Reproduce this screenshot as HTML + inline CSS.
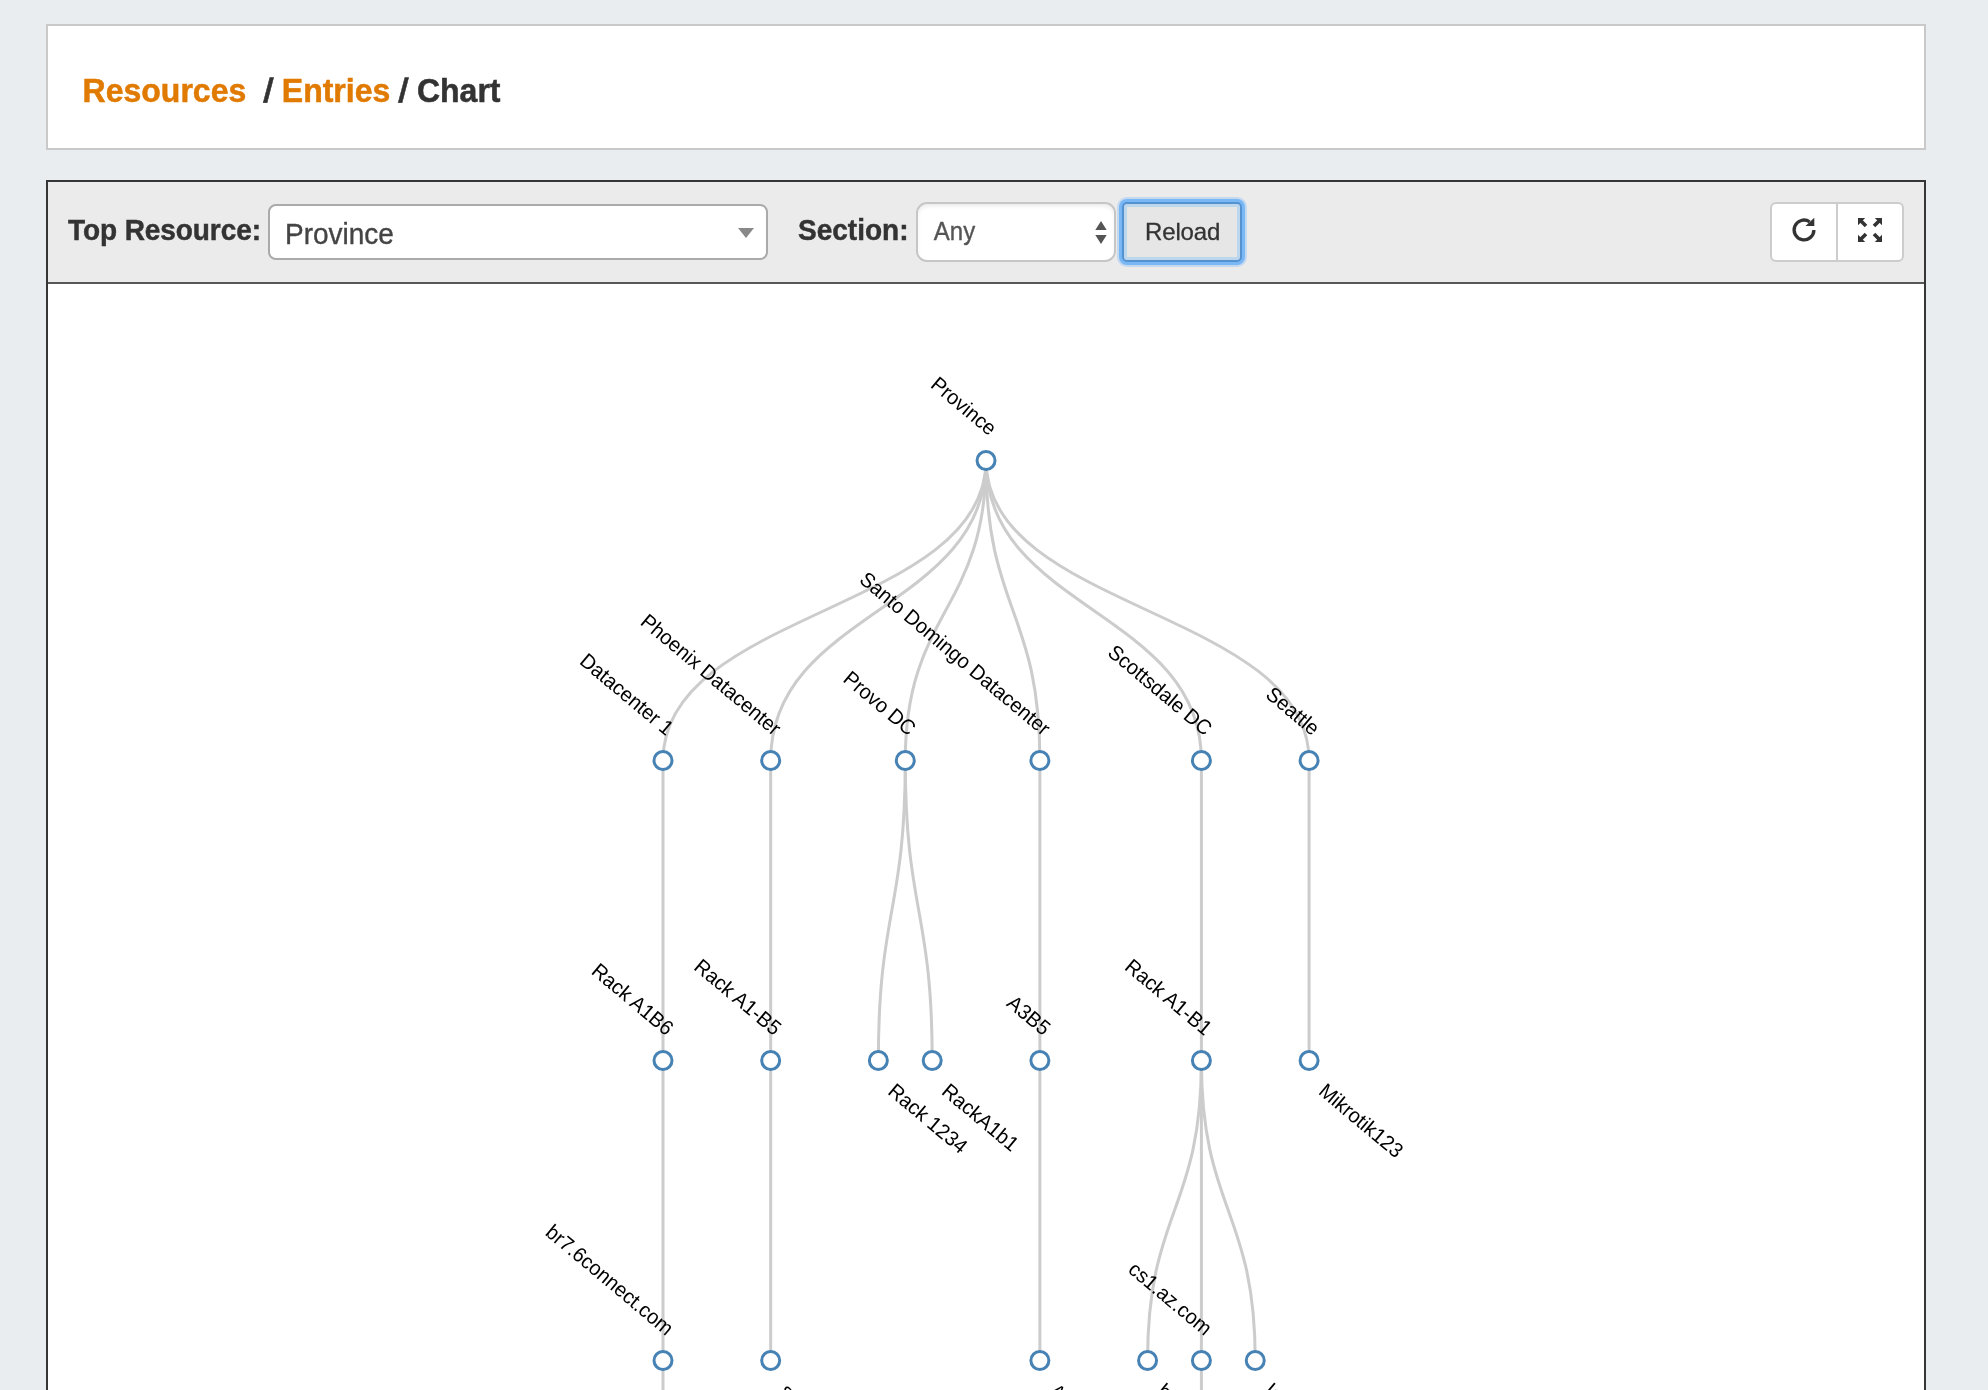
<!DOCTYPE html>
<html lang="en">
<head>
<meta charset="utf-8">
<title>Resources / Entries / Chart</title>
<style>
html,body{margin:0;padding:0;}
body{width:1988px;height:1390px;overflow:hidden;background:#e9edf0;font-family:"Liberation Sans",Arial,Helvetica,sans-serif;color:#333;position:relative;}
*{box-sizing:border-box;}
#wrap{position:absolute;left:0;top:0;width:1988px;height:1390px;overflow:hidden;will-change:transform;}
.header{position:absolute;left:46px;top:24px;width:1880px;height:126px;background:#fff;border:2px solid #c9c9c9;}
.header h1{position:absolute;left:34.6px;top:45px;margin:0;font-size:32px;line-height:36px;font-weight:bold;color:#333;white-space:pre;transform-origin:0 0;transform:scaleY(1.06);-webkit-text-stroke:0.5px;}
.header h1 a{color:#e07a00;text-decoration:none;}
.header h1 i{font-style:normal;display:inline-block;transform:skewX(-5deg);}
.chartbox{position:absolute;left:46px;top:180px;width:1880px;height:1240px;border:2px solid #363636;background:#fff;}
.toolbar{position:absolute;left:0;top:0;width:1876px;height:102px;background:#ebebeb;border-bottom:2px solid #585858;}
.lbl{position:absolute;font-size:28px;line-height:32px;font-weight:bold;color:#333;white-space:nowrap;transform-origin:0 0;transform:scaleY(1.055);-webkit-text-stroke:0.45px;}
.sel2{position:absolute;left:220px;top:22px;width:500px;height:56px;border:2px solid #aaa;border-radius:8px;background:#fff;}
.sel2 span{position:absolute;left:15px;top:12px;font-size:28px;line-height:32px;color:#444;transform-origin:0 0;transform:scaleY(1.05);-webkit-text-stroke:0.35px;}
.sel2 i{position:absolute;left:468px;top:22px;width:0;height:0;border-style:solid;border-width:10px 8px 0 8px;border-color:#888 transparent transparent transparent;}
.sel{position:absolute;left:868px;top:20px;width:200px;height:60px;border:2px solid #c6c6c6;border-radius:11px;background:#fff;box-shadow:inset 0 3px 4px -1px rgba(0,0,0,0.09);}
.sel span{position:absolute;left:15.8px;top:12.8px;font-size:24px;line-height:28px;color:#555;transform-origin:0 0;transform:scaleY(1.05);-webkit-text-stroke:0.35px;}
.sel svg{position:absolute;left:175.7px;top:17px;}
.btn{position:absolute;left:1074px;top:20px;width:120px;height:60px;background:#e6e6e6;border:2px solid #5593d0;border-radius:5px;box-shadow:0 0 0 3px #7ab8f5,0 0 0 5px #c4d9f0,inset 0 0 0 3px #bcd6ee;font-size:24px;line-height:28px;color:#333;}
.btn span{position:absolute;left:21px;top:13.6px;letter-spacing:-0.15px;transform-origin:0 0;transform:scaleY(1.0);-webkit-text-stroke:0.3px;}
.grp{position:absolute;left:1722px;top:20px;width:134px;height:60px;border:2px solid #ccc;border-radius:6px;background:#fff;}
.grp .div{position:absolute;left:64px;top:0;width:2px;height:56px;background:#ccc;}
.grp svg{position:absolute;top:13px;}
.tree{position:absolute;left:0;top:102px;}
.tree .links path{fill:none;stroke:#ccc;stroke-width:3px;}
.tree circle{fill:#fff;stroke:#4682b4;stroke-width:3px;}
.tree text{font-family:"Liberation Sans",Arial,Helvetica,sans-serif;font-size:20px;fill:#000;}
</style>
</head>
<body>
<div id="wrap">
<div class="header"><h1><a>Resources </a> <i>/</i> <a>Entries</a> <i>/</i> Chart</h1></div>
<div class="chartbox">
<div class="toolbar">
<div class="lbl" style="left:20px;top:32px;letter-spacing:-0.08px;">Top Resource:</div>
<div class="sel2"><span>Province</span><i></i></div>
<div class="lbl" style="left:750px;top:32px;">Section:</div>
<div class="sel"><span>Any</span><svg width="14" height="24" viewBox="0 0 14 24"><path d="M7 0L12.7 9H1.3zM1.3 14H12.7L7 23z" fill="#555"/></svg></div>
<div class="btn"><span>Reload</span></div>
<div class="grp">
<svg style="left:19px" width="26" height="26" viewBox="0 0 26 26"><path d="M22.9 13A9.9 9.9 0 1 1 18.6 4.8" fill="none" stroke="#333" stroke-width="3.3"/><path d="M23.3 0.7v8.3h-8.8z" fill="#333"/></svg>
<div class="div"></div>
<svg style="left:85px" width="26" height="26" viewBox="0 0 26 26"><g fill="#333" stroke="#333"><path d="M1 1h7.2L1 8.2z" stroke="none"/><path d="M25 1h-7.2L25 8.2z" stroke="none"/><path d="M1 25h7.2L1 17.8z" stroke="none"/><path d="M25 25h-7.2L25 17.8z" stroke="none"/><path d="M4 4l5 5M22 4l-5 5M4 22l5-5M22 22l-5-5" stroke-width="3.6" fill="none"/></g></svg>
</div>
</div>
<svg class="tree" width="1876" height="1106" viewBox="48 284 1876 1106">
<g class="links">
<path d="M986.04,460.5C986.04,610.5 663,610.5 663,760.5"/>
<path d="M986.04,460.5C986.04,610.5 770.68,610.5 770.68,760.5"/>
<path d="M986.04,460.5C986.04,610.5 905.28,610.5 905.28,760.5"/>
<path d="M986.04,460.5C986.04,610.5 1039.88,610.5 1039.88,760.5"/>
<path d="M986.04,460.5C986.04,610.5 1201.4,610.5 1201.4,760.5"/>
<path d="M986.04,460.5C986.04,610.5 1309.08,610.5 1309.08,760.5"/>
<path d="M663,760.5C663,910.5 663,910.5 663,1060.5"/>
<path d="M770.68,760.5C770.68,910.5 770.68,910.5 770.68,1060.5"/>
<path d="M905.28,760.5C905.28,910.5 878.36,910.5 878.36,1060.5"/>
<path d="M905.28,760.5C905.28,910.5 932.2,910.5 932.2,1060.5"/>
<path d="M1039.88,760.5C1039.88,910.5 1039.88,910.5 1039.88,1060.5"/>
<path d="M1201.4,760.5C1201.4,910.5 1201.4,910.5 1201.4,1060.5"/>
<path d="M1309.08,760.5C1309.08,910.5 1309.08,910.5 1309.08,1060.5"/>
<path d="M663,1060.5C663,1210.5 663,1210.5 663,1360.5"/>
<path d="M770.68,1060.5C770.68,1210.5 770.68,1210.5 770.68,1360.5"/>
<path d="M1039.88,1060.5C1039.88,1210.5 1039.88,1210.5 1039.88,1360.5"/>
<path d="M1201.4,1060.5C1201.4,1210.5 1147.56,1210.5 1147.56,1360.5"/>
<path d="M1201.4,1060.5C1201.4,1210.5 1201.4,1210.5 1201.4,1360.5"/>
<path d="M1201.4,1060.5C1201.4,1210.5 1255.24,1210.5 1255.24,1360.5"/>
<path d="M663,1360.5C663,1510.5 663,1510.5 663,1660.5"/>
<path d="M1201.4,1360.5C1201.4,1510.5 1201.4,1510.5 1201.4,1660.5"/>
</g>
<g class="nodes">
<g transform="translate(986.04,460.5)"><circle r="9"/><text x="-13.1" y="-19.57" text-anchor="end" transform="rotate(40) scale(1,1.04)">Province</text></g>
<g transform="translate(663,760.5)"><circle r="9"/><text x="-13.1" y="-19.57" text-anchor="end" transform="rotate(40) scale(1,1.04)">Datacenter 1</text></g>
<g transform="translate(770.68,760.5)"><circle r="9"/><text x="-13.1" y="-19.57" text-anchor="end" transform="rotate(40) scale(1,1.04)">Phoenix Datacenter</text></g>
<g transform="translate(905.28,760.5)"><circle r="9"/><text x="-13.1" y="-19.57" text-anchor="end" transform="rotate(40) scale(1,1.04)">Provo DC</text></g>
<g transform="translate(1039.88,760.5)"><circle r="9"/><text x="-13.1" y="-19.57" text-anchor="end" transform="rotate(40) scale(1,1.04)">Santo Domingo Datacenter</text></g>
<g transform="translate(1201.4,760.5)"><circle r="9"/><text x="-13.1" y="-19.57" text-anchor="end" transform="rotate(40) scale(1,1.04)">Scottsdale DC</text></g>
<g transform="translate(1309.08,760.5)"><circle r="9"/><text x="-13.1" y="-19.57" text-anchor="end" transform="rotate(40) scale(1,1.04)">Seattle</text></g>
<g transform="translate(663,1060.5)"><circle r="9"/><text x="-13.1" y="-19.57" text-anchor="end" transform="rotate(40) scale(1,1.04)">Rack A1B6</text></g>
<g transform="translate(770.68,1060.5)"><circle r="9"/><text x="-13.1" y="-19.57" text-anchor="end" transform="rotate(40) scale(1,1.04)">Rack A1-B5</text></g>
<g transform="translate(878.36,1060.5)"><circle r="9"/><text x="27.4" y="18.9" text-anchor="start" transform="rotate(40) scale(1,1.04)">Rack 1234</text></g>
<g transform="translate(932.2,1060.5)"><circle r="9"/><text x="27.4" y="18.9" text-anchor="start" transform="rotate(40) scale(1,1.04)">RackA1b1</text></g>
<g transform="translate(1039.88,1060.5)"><circle r="9"/><text x="-13.1" y="-19.57" text-anchor="end" transform="rotate(40) scale(1,1.04)">A3B5</text></g>
<g transform="translate(1201.4,1060.5)"><circle r="9"/><text x="-13.1" y="-19.57" text-anchor="end" transform="rotate(40) scale(1,1.04)">Rack A1-B1</text></g>
<g transform="translate(1309.08,1060.5)"><circle r="9"/><text x="27.4" y="18.9" text-anchor="start" transform="rotate(40) scale(1,1.04)">Mikrotik123</text></g>
<g transform="translate(663,1360.5)"><circle r="9"/><text x="-13.1" y="-19.57" text-anchor="end" transform="rotate(40) scale(1,1.04)">br7.6connect.com</text></g>
<g transform="translate(770.68,1360.5)"><circle r="9"/><text x="27.4" y="18.9" text-anchor="start" transform="rotate(40) scale(1,1.04)">sw2.6connect.com</text></g>
<g transform="translate(1039.88,1360.5)"><circle r="9"/><text x="27.4" y="18.9" text-anchor="start" transform="rotate(40) scale(1,1.04)">A3B5-sw1</text></g>
<g transform="translate(1147.56,1360.5)"><circle r="9"/><text x="27.4" y="18.9" text-anchor="start" transform="rotate(40) scale(1,1.04)">br1.az.com</text></g>
<g transform="translate(1201.4,1360.5)"><circle r="9"/><text x="-13.1" y="-19.57" text-anchor="end" transform="rotate(40) scale(1,1.04)">cs1.az.com</text></g>
<g transform="translate(1255.24,1360.5)"><circle r="9"/><text x="27.4" y="18.9" text-anchor="start" transform="rotate(40) scale(1,1.04)">lo0.az.com</text></g>
<g transform="translate(663,1660.5)"><circle r="9"/><text x="27.4" y="18.9" text-anchor="start" transform="rotate(40) scale(1,1.04)">ge-0/0/1</text></g>
<g transform="translate(1201.4,1660.5)"><circle r="9"/><text x="27.4" y="18.9" text-anchor="start" transform="rotate(40) scale(1,1.04)">ge-0/0/2</text></g>
</g>
</svg>
</div>
</div>
</body>
</html>
